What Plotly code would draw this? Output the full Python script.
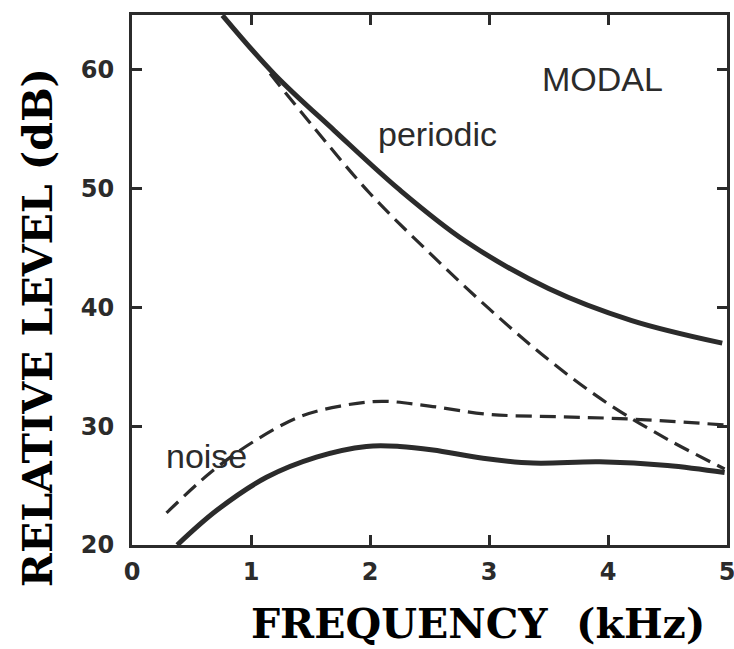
import plotly.graph_objects as go

# Periodic component, solid
per_solid_x = [0.76, 1.2, 1.7, 2.25, 2.8, 3.5, 4.2, 4.96]
per_solid_y = [64.6, 59.6, 54.9, 49.9, 45.6, 41.6, 38.9, 37.0]

# Periodic, dashed
per_dash_x = [1.16, 1.5, 2.0, 2.5, 3.0, 3.5, 4.0, 4.5, 4.98]
per_dash_y = [59.7, 55.5, 49.6, 44.6, 39.9, 35.6, 31.9, 28.9, 26.4]

# Noise component, dashed
noise_dash_x = [0.29, 0.66, 1.02, 1.41, 1.75, 2.1, 2.5, 3.0, 3.6, 4.2, 5.0]
noise_dash_y = [22.7, 26.1, 28.7, 30.8, 31.7, 32.1, 31.7, 31.0, 30.8, 30.6, 30.1]

# Noise, solid
noise_solid_x = [0.38, 0.71, 1.13, 1.55, 1.97, 2.25, 2.53, 2.95, 3.37, 3.93, 4.50, 4.98]
noise_solid_y = [20.0, 22.9, 25.7, 27.4, 28.3, 28.3, 28.0, 27.3, 26.9, 27.0, 26.7, 26.1]

x_ticks = [0, 1, 2, 3, 4, 5]
y_ticks = [20, 30, 40, 50, 60]

ink = "#2b2b2b"

fig = go.Figure()
fig.add_trace(go.Scatter(x=per_solid_x, y=per_solid_y, mode="lines",
                         line=dict(color=ink, width=5, shape="spline"), showlegend=False))
fig.add_trace(go.Scatter(x=per_dash_x, y=per_dash_y, mode="lines",
                         line=dict(color=ink, width=3.2, shape="spline", dash="16px,8px"), showlegend=False))
fig.add_trace(go.Scatter(x=noise_dash_x, y=noise_dash_y, mode="lines",
                         line=dict(color=ink, width=3.2, shape="spline", dash="16px,8px"), showlegend=False))
fig.add_trace(go.Scatter(x=noise_solid_x, y=noise_solid_y, mode="lines",
                         line=dict(color=ink, width=5, shape="spline"), showlegend=False))

lab_font = dict(family="Liberation Sans", size=34, color=ink)
fig.add_annotation(x=3.95, y=59.2, text="MODAL", showarrow=False, font=lab_font)
fig.add_annotation(x=2.57, y=54.6, text="periodic", showarrow=False, font=lab_font)
fig.add_annotation(x=0.63, y=27.5, text="noise", showarrow=False, font=lab_font)

title_font = dict(family="DejaVu Serif", size=41, color="black", weight="bold")
fig.add_annotation(xref="paper", yref="paper", x=-0.158, y=0.411, text="RELATIVE LEVEL (dB)",
                   textangle=-90, showarrow=False, font=title_font,
                   xanchor="center", yanchor="middle")
fig.add_annotation(xref="paper", yref="paper", x=0.5815, y=-0.149, text="FREQUENCY  (kHz)",
                   showarrow=False, font=title_font, xanchor="center", yanchor="middle")

axis_common = dict(showline=True, linecolor=ink, linewidth=3, mirror="ticks",
                   ticks="inside", ticklen=10, tickwidth=2.5, tickcolor=ink,
                   showgrid=False, zeroline=False, automargin=False,
                   ticklabeloverflow="allow",
                   tickfont=dict(family="DejaVu Sans", size=24, color=ink, weight="bold"))

fig.update_xaxes(range=[0, 5], tickvals=x_ticks, ticktext=[str(v) for v in x_ticks],
                 ticklabelstandoff=3, **axis_common)
fig.update_yaxes(range=[20, 64.63], tickvals=y_ticks, ticktext=[str(v) for v in y_ticks],
                 ticklabelstandoff=10, **axis_common)

fig.update_layout(width=734, height=649, margin=dict(l=132, r=7, t=15, b=104, autoexpand=False),
                  plot_bgcolor="white", paper_bgcolor="white")

fig.write_html("out.html")
